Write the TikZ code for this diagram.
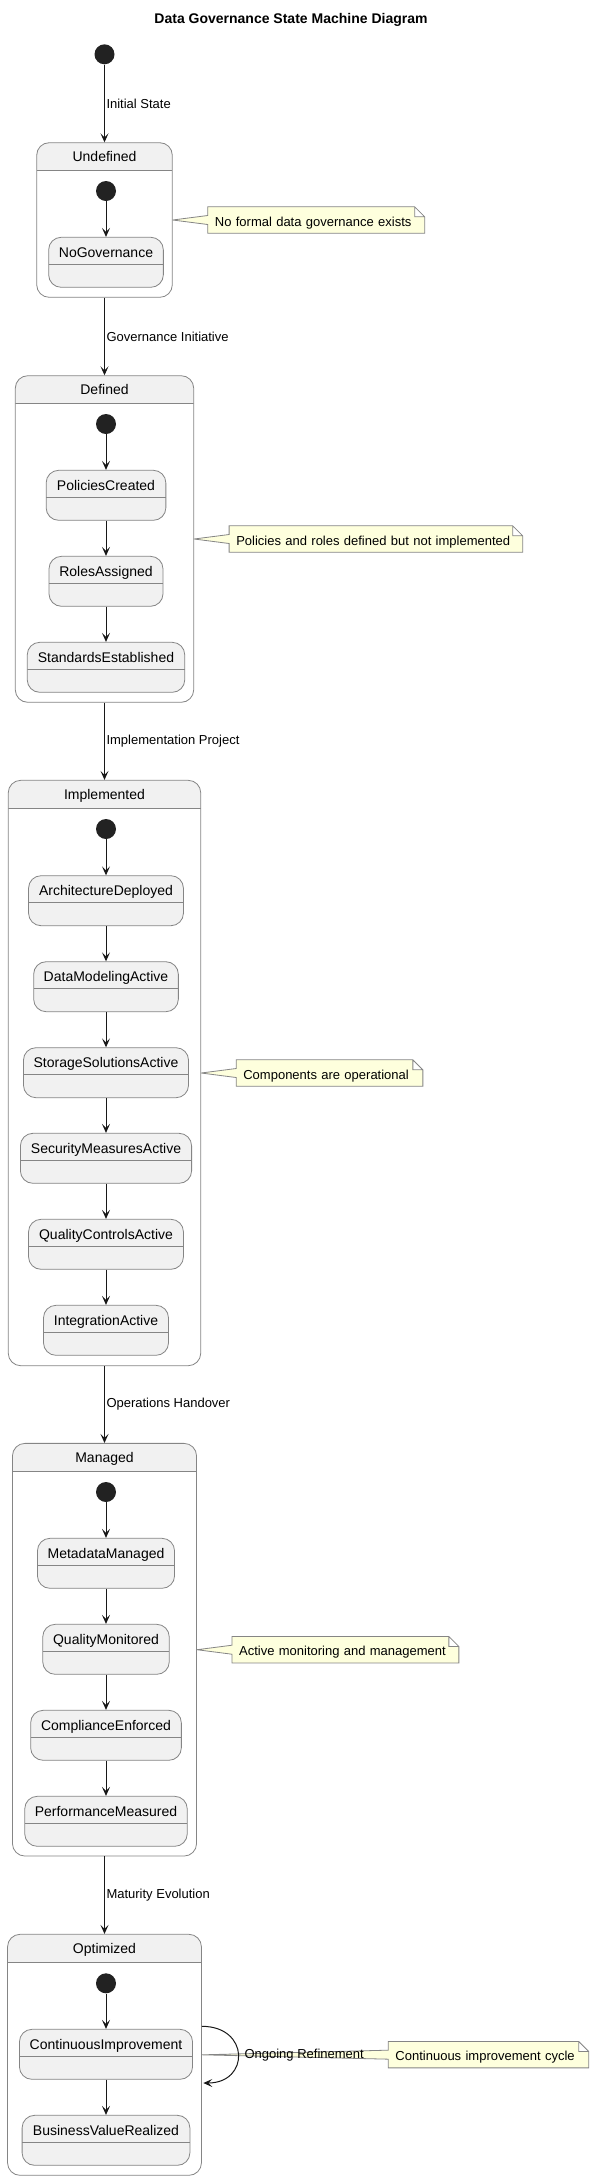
\documentclass[tikz,border=0pt]{standalone}
\usepackage{fontspec}
\setmainfont{Liberation Sans}
\usetikzlibrary{positioning,arrows.meta,backgrounds}

\definecolor{stfill}{HTML}{F1F1F1}
\definecolor{stline}{HTML}{858585}
\definecolor{notebg}{HTML}{FEFFDD}
\definecolor{dotc}{HTML}{222222}
\definecolor{linec}{HTML}{181818}

\begin{document}
\begin{tikzpicture}[x=1pt,y=-1pt,
    stbox/.style={draw=stline,line width=.8pt,fill=stfill,rounded corners=12.5pt,
      minimum height=50pt,inner sep=0pt,text height=5pt,text depth=15pt,
      font=\fontsize{14pt}{16pt}\selectfont,
      path picture={\draw[stline,line width=.8pt] ([yshift=-27pt]path picture bounding box.north west) -- ([yshift=-27pt]path picture bounding box.north east);}},
    compbox/.style={draw=stline,line width=.8pt,fill=white,rounded corners=12.5pt,inner sep=0pt,
      path picture={\fill[stfill,sharp corners] (path picture bounding box.north west) rectangle ([yshift=-28pt]path picture bounding box.north east);
        \draw[stline,line width=.8pt] ([yshift=-28pt]path picture bounding box.north west) -- ([yshift=-28pt]path picture bounding box.north east);}},
    hdr/.style={font=\fontsize{14pt}{16pt}\selectfont,inner sep=0pt,text height=10pt,text depth=3pt},
    initdot/.style={circle,fill=dotc,minimum size=20pt,inner sep=0pt},
    arr/.style={draw=linec,line width=1pt,-{Stealth[length=9pt,width=8pt,inset=4pt]}},
    lbl/.style={midway,anchor=west,inner sep=1.5pt,font=\fontsize{13pt}{15pt}\selectfont},
    note/.style={inner xsep=7pt,inner ysep=0pt,minimum height=26pt,align=left,
      text height=12pt,text depth=0pt,font=\fontsize{13pt}{15pt}\selectfont}]
    \useasboundingbox (0,0) rectangle (590,2180);

    \node[font=\bfseries\fontsize{14pt}{16pt}\selectfont] (title) at (291,20) {Data Governance State Machine Diagram};
    \node[initdot] (start) at (104.5,54.3) {};

    % composite states
    \node[compbox,minimum width=135.6pt,minimum height=154.6pt] (undef) at (104.5,220) {};
    \node[compbox,minimum width=178.4pt,minimum height=326.6pt] (defd) at (104.5,539) {};
    \node[compbox,minimum width=192.5pt,minimum height=585.4pt] (impl) at (104.5,1073) {};
    \node[compbox,minimum width=184.1pt,minimum height=412.7pt] (mngd) at (104.5,1649.7) {};
    \node[compbox,minimum width=193.9pt,minimum height=241pt] (optm) at (104.5,2054.8) {};
    \node[hdr] (undefT) at ([yshift=-15.8pt]undef.north) {Undefined};
    \node[hdr] (defdT) at ([yshift=-15.8pt]defd.north) {Defined};
    \node[hdr] (implT) at ([yshift=-15.8pt]impl.north) {Implemented};
    \node[hdr] (mngdT) at ([yshift=-15.8pt]mngd.north) {Managed};
    \node[hdr] (optmT) at ([yshift=-15.8pt]optm.north) {Optimized};

    % Undefined
    \node[initdot] (undef0) at (106,191) {};
    \node[stbox,minimum width=114.7pt] (nogov) at (106,262.3) {NoGovernance};
    \draw[arr] (undef0) -- (nogov);

    % Defined
    \node[initdot] (defd0) at (106,424) {};
    \node[stbox,minimum width=119.7pt] (polc) at (106,495.3) {PoliciesCreated};
    \node[stbox,minimum width=114pt] (roles) at (106,581.3) {RolesAssigned};
    \node[stbox,minimum width=157.5pt] (stds) at (106,667.3) {StandardsEstablished};
    \draw[arr] (defd0) -- (polc);
    \draw[arr] (polc) -- (roles);
    \draw[arr] (roles) -- (stds);

    % Implemented
    \node[initdot] (impl0) at (106,829) {};
    \node[stbox,minimum width=154.9pt] (arch) at (106,900.7) {ArchitectureDeployed};
    \node[stbox,minimum width=144.7pt] (dmod) at (106,986.7) {DataModelingActive};
    \node[stbox,minimum width=165.1pt] (stor) at (106,1072.7) {StorageSolutionsActive};
    \node[stbox,minimum width=171.2pt] (secu) at (106,1158.3) {SecurityMeasuresActive};
    \node[stbox,minimum width=154.9pt] (qctl) at (106,1244.3) {QualityControlsActive};
    \node[stbox,minimum width=125pt] (intg) at (106,1330.3) {IntegrationActive};
    \draw[arr] (impl0) -- (arch);
    \draw[arr] (arch) -- (dmod);
    \draw[arr] (dmod) -- (stor);
    \draw[arr] (stor) -- (secu);
    \draw[arr] (secu) -- (qctl);
    \draw[arr] (qctl) -- (intg);

    % Managed
    \node[initdot] (mngd0) at (106,1492) {};
    \node[stbox,minimum width=137.1pt] (meta) at (106,1563.3) {MetadataManaged};
    \node[stbox,minimum width=126.5pt] (qmon) at (106,1649.3) {QualityMonitored};
    \node[stbox,minimum width=150.7pt] (comp) at (106,1735.3) {ComplianceEnforced};
    \node[stbox,minimum width=162.5pt] (perf) at (106,1821.3) {PerformanceMeasured};
    \draw[arr] (mngd0) -- (meta);
    \draw[arr] (meta) -- (qmon);
    \draw[arr] (qmon) -- (comp);
    \draw[arr] (comp) -- (perf);

    % Optimized
    \node[initdot] (optm0) at (106,1983.3) {};
    \node[stbox,minimum width=173.1pt] (cimp) at (106,2054.3) {ContinuousImprovement};
    \node[stbox,minimum width=167.8pt] (bval) at (106,2140.3) {BusinessValueRealized};
    \draw[arr] (optm0) -- (cimp);
    \draw[arr] (cimp) -- (bval);
    \draw[arr] ([yshift=28.5pt]optm.east) .. controls +(48,0) and +(46.5,0) .. ([xshift=1.5pt,yshift=-28.2pt]optm.east)
      node[pos=.5,anchor=west,inner sep=6pt,font=\fontsize{13pt}{15pt}\selectfont] (refine) {Ongoing Refinement};

    % transitions between the levels
    \draw[arr] (start) -- node[lbl] {Initial State} (undef);
    \draw[arr] (undef) -- node[lbl] {Governance Initiative} (defd);
    \draw[arr] (defd) -- node[lbl] {Implementation Project} (impl);
    \draw[arr] (impl) -- node[lbl] {Operations Handover} (mngd);
    \draw[arr] (mngd) -- node[lbl] {Maturity Evolution} (optm);

    % notes
    \node[note,text width=202.6pt,right=35pt of undef] (n1) {No formal data governance exists};
    \node[note,text width=279.2pt,right=35pt of defd] (n2) {Policies and roles defined but not implemented};
    \node[note,text width=172.3pt,right=35pt of impl] (n3) {Components are operational};
    \node[note,text width=212.5pt,right=35pt of mngd] (n4) {Active monitoring and management};
    \node[note,text width=186pt,right=18pt of refine] (n5) {Continuous improvement cycle};
    \begin{scope}[on background layer]
      \foreach \n/\s in {n1/undef,n2/defd,n3/impl,n4/mngd,n5/optm}
        \filldraw[draw=stline,line width=.8pt,fill=notebg] (\s.east) -- ([yshift=4.5pt]\n.west) -- (\n.north west)
          -- ([xshift=-10pt]\n.north east) -- ([yshift=-10pt]\n.north east) -- (\n.south east)
          -- (\n.south west) -- ([yshift=-4.5pt]\n.west) -- cycle
          ([xshift=-10pt]\n.north east) |- ([yshift=-10pt]\n.north east);
    \end{scope}
\end{tikzpicture}
\end{document}
